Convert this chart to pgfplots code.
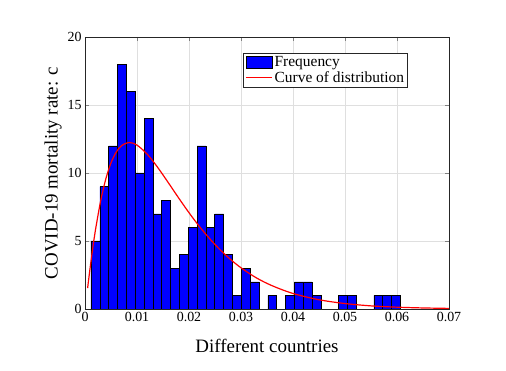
\documentclass[border=0pt]{standalone}
\usepackage{fontspec}
\setmainfont{Liberation Serif}
\usepackage{pgfplots}
\pgfplotsset{compat=1.18}

\begin{document}
\begin{tikzpicture}
\path[use as bounding box] (-85bp,-62bp) rectangle (421bp,309bp);
\begin{axis}[
  scale only axis, width=364bp, height=272bp,
  xmin=0, xmax=0.07, ymin=0, ymax=20,
  xtick={0,0.01,...,0.07}, ytick={0,5,10,15,20},
  xticklabels={0,0.01,0.02,0.03,0.04,0.05,0.06,0.07},
  scaled x ticks=false,
  tick align=inside, tick pos=both,
  major tick length=4bp,
  axis line style={black!85, line width=0.5pt},
  grid=major, grid style={gray!25, line width=0.5pt},
  tick label style={font=\fontsize{14}{14}\selectfont},
  /pgf/number format/assume math mode=true,
  xlabel={Different countries}, ylabel={COVID-19 mortality rate: c},
  label style={font=\fontsize{19}{19}\selectfont},
  xlabel shift=10bp, ylabel shift=-1bp,
  legend style={at={(0.887,0.941)}, anchor=north east, draw=black!85,
    font=\fontsize{15.5}{16}\selectfont, inner sep=1.5bp, row sep=-1bp,
    cells={anchor=west}},
  legend cell align=left,
]
% histogram: left bin edges, last row closes the final bin
\addplot[ybar interval, fill=blue, draw=black, line width=0.5pt,
  legend image code/.code={\draw[fill=blue,draw=black] (0bp,-6bp) rectangle (26bp,6bp);}]
  coordinates {
  (0.00115,5) (0.00285,9) (0.00455,12) (0.00625,18) (0.00795,16)
  (0.00965,10) (0.01135,14) (0.01305,7) (0.01475,8) (0.01645,3)
  (0.01815,4) (0.01985,6) (0.02155,12) (0.02325,6) (0.02495,7)
  (0.02665,4) (0.02835,1) (0.03005,3) (0.03175,2) (0.03345,0)
  (0.03515,1) (0.03685,0) (0.03855,1) (0.04025,2) (0.04195,2)
  (0.04365,1) (0.04535,0) (0.04705,0) (0.04875,1) (0.05045,1)
  (0.05215,0) (0.05385,0) (0.05555,1) (0.05725,1) (0.05895,1)
  (0.06065,1)};
\addlegendentry{Frequency}
\addplot[red, line width=1.2pt, smooth, no marks,
  legend image post style={line width=1.6pt},
  legend image code/.code={\draw[red, line width=1.6pt] (0bp,0bp) -- (26bp,0bp);}]
  coordinates {
  (0.0005,1.53) (0.001,3.07) (0.0015,4.49) (0.002,5.78) (0.003,7.93)
  (0.004,9.56) (0.005,10.74) (0.006,11.53) (0.007,12.00) (0.0085,12.24)
  (0.010,12.05) (0.012,11.37) (0.014,10.40) (0.016,9.30) (0.018,8.17)
  (0.020,7.08) (0.022,6.07) (0.024,5.16) (0.026,4.35) (0.028,3.64)
  (0.030,3.03) (0.033,2.28) (0.036,1.71) (0.040,1.14) (0.045,0.68)
  (0.050,0.40) (0.055,0.23) (0.060,0.134) (0.065,0.077) (0.070,0.044)};
\addlegendentry{Curve of distribution}
\end{axis}
\end{tikzpicture}
\end{document}
